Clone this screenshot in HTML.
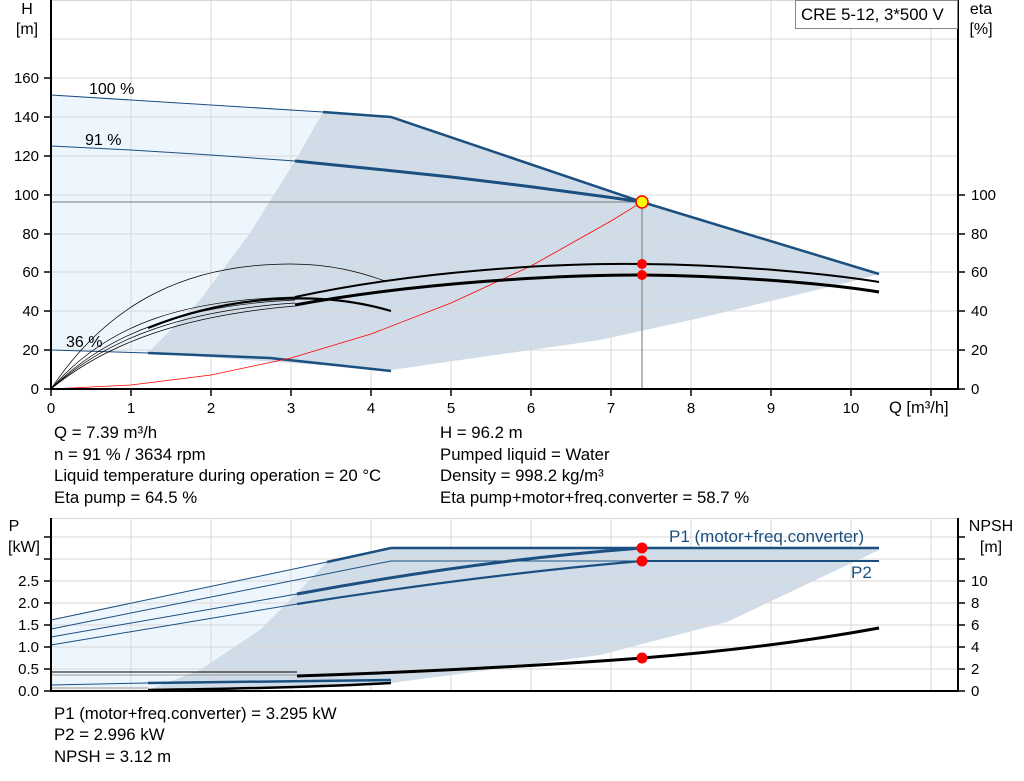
<!DOCTYPE html>
<html><head><meta charset="utf-8"><style>
html,body{margin:0;padding:0;background:#fff;}
svg{display:block;font-family:"Liberation Sans",Arial,sans-serif;}
</style></head><body>
<svg width="1024" height="781" viewBox="0 0 1024 781" xmlns="http://www.w3.org/2000/svg">
<!-- TOP CHART -->
<polygon points="51,95 323,112 295,161 250,233 200,300 148,353 51,350" fill="#eef6fd"/>
<polygon points="323,112 391,117 642,202 879,274 850,282 700,318 600,340 391,370 148,353 200,300 250,233 295,161" fill="#d0dce8"/>
<g stroke="#d8d8d8" stroke-width="1">
<line x1="131" y1="0" x2="131" y2="389"/><line x1="211" y1="0" x2="211" y2="389"/><line x1="291" y1="0" x2="291" y2="389"/><line x1="371" y1="0" x2="371" y2="389"/><line x1="451" y1="0" x2="451" y2="389"/><line x1="531" y1="0" x2="531" y2="389"/><line x1="611" y1="0" x2="611" y2="389"/><line x1="691" y1="0" x2="691" y2="389"/><line x1="771" y1="0" x2="771" y2="389"/><line x1="851" y1="0" x2="851" y2="389"/><line x1="931" y1="0" x2="931" y2="389"/>
<line x1="51" y1="39" x2="958" y2="39"/><line x1="51" y1="78" x2="958" y2="78"/><line x1="51" y1="117" x2="958" y2="117"/><line x1="51" y1="156" x2="958" y2="156"/><line x1="51" y1="195" x2="958" y2="195"/><line x1="51" y1="234" x2="958" y2="234"/><line x1="51" y1="272" x2="958" y2="272"/><line x1="51" y1="311" x2="958" y2="311"/><line x1="51" y1="350" x2="958" y2="350"/>
<line x1="51" y1="0.5" x2="958" y2="0.5"/>
</g>
<line x1="51" y1="202" x2="642" y2="202" stroke="#777" stroke-width="1"/>
<line x1="642" y1="202" x2="642" y2="389" stroke="#888" stroke-width="1.2"/>
<polyline points="51,95 323,112" fill="none" stroke="#1a4f80" stroke-width="1"/>
<polyline points="323,112 391,117 642,202 879,274" fill="none" stroke="#1a4f80" stroke-width="2.5"/>
<polyline points="51,146 131,150 211,155 295,161" fill="none" stroke="#1a4f80" stroke-width="1"/>
<polyline points="295,161 371,168.6 451,177 531,186.7 611,197.5 642,202" fill="none" stroke="#1a4f80" stroke-width="3"/>
<polyline points="51,350 148,353" fill="none" stroke="#1a4f80" stroke-width="1"/>
<polyline points="148,353 270,358 391,371" fill="none" stroke="#1a4f80" stroke-width="2.5"/>
<polyline points="51,389 131,385 211,375 291,358 371,334 451,303 531,266 611,221 642,202" fill="none" stroke="#f00" stroke-width="0.8"/>
<g fill="none" stroke="#000">
<path d="M51,389 C110,300 190,264 291,264 C330,264 360,272 385,281" stroke-width="0.7"/>
<path d="M51,389 C110,320 190,300 295,297" stroke-width="0.7"/>
<path d="M51,389 C110,330 190,305 295,300" stroke-width="0.7"/>
<path d="M51,389 C110,335 190,310 295,303" stroke-width="0.7"/>
<path d="M51,389 C110,340 190,315 295,306" stroke-width="0.7"/>
<path d="M148,328 C230,295 320,290 391,311" stroke-width="2.2"/>
<path d="M295,297 C420,270 560,263 642,264 C740,265 830,274 879,282" stroke-width="2"/>
<path d="M295,305 C420,282 560,275 642,275 C740,276 830,284 879,292" stroke-width="3"/>
</g>
<circle cx="642" cy="264" r="5" fill="#f00"/>
<circle cx="642" cy="275" r="5" fill="#f00"/>
<circle cx="642" cy="202" r="6" fill="#ff0" stroke="#f00" stroke-width="1.5"/>
<g stroke="#000" stroke-width="2">
<line x1="51" y1="0" x2="51" y2="390"/><line x1="50" y1="389" x2="959" y2="389"/><line x1="958" y1="0" x2="958" y2="390"/>
</g>
<g stroke="#000" stroke-width="1.5">
<line x1="51" y1="389" x2="51" y2="396"/><line x1="131" y1="389" x2="131" y2="396"/><line x1="211" y1="389" x2="211" y2="396"/><line x1="291" y1="389" x2="291" y2="396"/><line x1="371" y1="389" x2="371" y2="396"/><line x1="451" y1="389" x2="451" y2="396"/><line x1="531" y1="389" x2="531" y2="396"/><line x1="611" y1="389" x2="611" y2="396"/><line x1="691" y1="389" x2="691" y2="396"/><line x1="771" y1="389" x2="771" y2="396"/><line x1="851" y1="389" x2="851" y2="396"/><line x1="931" y1="389" x2="931" y2="396"/>
<line x1="44" y1="389" x2="51" y2="389"/><line x1="44" y1="350" x2="51" y2="350"/><line x1="44" y1="311" x2="51" y2="311"/><line x1="44" y1="272" x2="51" y2="272"/><line x1="44" y1="234" x2="51" y2="234"/><line x1="44" y1="195" x2="51" y2="195"/><line x1="44" y1="156" x2="51" y2="156"/><line x1="44" y1="117" x2="51" y2="117"/><line x1="44" y1="78" x2="51" y2="78"/>
<line x1="958" y1="389" x2="965" y2="389"/><line x1="958" y1="350" x2="965" y2="350"/><line x1="958" y1="311" x2="965" y2="311"/><line x1="958" y1="272" x2="965" y2="272"/><line x1="958" y1="234" x2="965" y2="234"/><line x1="958" y1="195" x2="965" y2="195"/>
</g>
<g font-size="15" fill="#000">
<text x="27" y="14" text-anchor="middle" font-size="16">H</text><text x="27" y="34" text-anchor="middle" font-size="16">[m]</text>
<g text-anchor="end"><text x="39" y="394">0</text><text x="39" y="355">20</text><text x="39" y="316">40</text><text x="39" y="277">60</text><text x="39" y="239">80</text><text x="39" y="200">100</text><text x="39" y="161">120</text><text x="39" y="122">140</text><text x="39" y="83">160</text></g>
<g><text x="971" y="394">0</text><text x="971" y="355">20</text><text x="971" y="316">40</text><text x="971" y="277">60</text><text x="971" y="239">80</text><text x="971" y="200">100</text></g>
<text x="981" y="14" text-anchor="middle" font-size="16">eta</text><text x="981" y="34" text-anchor="middle" font-size="16">[%]</text>
<g text-anchor="middle"><text x="51" y="413">0</text><text x="131" y="413">1</text><text x="211" y="413">2</text><text x="291" y="413">3</text><text x="371" y="413">4</text><text x="451" y="413">5</text><text x="531" y="413">6</text><text x="611" y="413">7</text><text x="691" y="413">8</text><text x="771" y="413">9</text><text x="851" y="413">10</text></g>
<text x="889" y="413" font-size="16.5">Q [m³/h]</text>
<g font-size="16"><text x="89" y="94">100 %</text><text x="85" y="145">91 %</text><text x="66" y="347">36 %</text></g>
</g>
<rect x="795.5" y="0.5" width="162" height="28" fill="#fff" stroke="#888"/>
<text x="801" y="20" font-size="16.8">CRE 5-12, 3*500 V</text>
<g font-size="16.8" fill="#000">
<text x="54" y="438">Q = 7.39 m³/h</text>
<text x="54" y="460">n = 91 % / 3634 rpm</text>
<text x="54" y="481">Liquid temperature during operation = 20 °C</text>
<text x="54" y="503">Eta pump = 64.5 %</text>
<text x="440" y="438">H = 96.2 m</text>
<text x="440" y="460">Pumped liquid = Water</text>
<text x="440" y="481">Density = 998.2 kg/m³</text>
<text x="440" y="503">Eta pump+motor+freq.converter = 58.7 %</text>
</g>
<!-- BOTTOM CHART -->
<polygon points="51,620 327,562 300,590 260,630 200,670 148,690 51,691" fill="#eef6fd"/>
<polygon points="327,562 391,548 879,548 879,550 727,622 600,655 391,683 148,690 200,670 260,630 300,590" fill="#d0dce8"/>
<g stroke="#d8d8d8" stroke-width="1">
<line x1="131" y1="518" x2="131" y2="691"/><line x1="211" y1="518" x2="211" y2="691"/><line x1="291" y1="518" x2="291" y2="691"/><line x1="371" y1="518" x2="371" y2="691"/><line x1="451" y1="518" x2="451" y2="691"/><line x1="531" y1="518" x2="531" y2="691"/><line x1="611" y1="518" x2="611" y2="691"/><line x1="691" y1="518" x2="691" y2="691"/><line x1="771" y1="518" x2="771" y2="691"/><line x1="851" y1="518" x2="851" y2="691"/><line x1="931" y1="518" x2="931" y2="691"/>
<line x1="51" y1="518.5" x2="958" y2="518.5"/><line x1="51" y1="537" x2="958" y2="537"/><line x1="51" y1="559" x2="958" y2="559"/><line x1="51" y1="581" x2="958" y2="581"/><line x1="51" y1="603" x2="958" y2="603"/><line x1="51" y1="625" x2="958" y2="625"/><line x1="51" y1="647" x2="958" y2="647"/><line x1="51" y1="669" x2="958" y2="669"/>
</g>
<g fill="none" stroke="#1a4f80">
<line x1="51" y1="620" x2="327" y2="562" stroke-width="1"/>
<polyline points="327,562 391,548 879,548" stroke-width="2.5"/>
<polyline points="51,629 391,561 879,561" stroke-width="1"/>
<line x1="642" y1="561" x2="879" y2="561" stroke-width="2"/>
<line x1="51" y1="637" x2="297" y2="594" stroke-width="1"/>
<path d="M297,594 Q480,560 642,548" stroke-width="3"/>
<line x1="51" y1="645" x2="297" y2="604" stroke-width="1"/>
<path d="M297,604 Q480,575 642,561" stroke-width="2.2"/>
<line x1="51" y1="685" x2="148" y2="683" stroke-width="1"/>
<line x1="148" y1="683" x2="391" y2="680" stroke-width="2.5"/>
</g>
<line x1="51" y1="672" x2="297" y2="672" stroke="#000" stroke-width="1"/>
<line x1="51" y1="675" x2="297" y2="675" stroke="#999" stroke-width="1"/>
<line x1="51" y1="688" x2="148" y2="688" stroke="#999" stroke-width="1"/>
<path d="M148,690 Q300,688 391,683" fill="none" stroke="#000" stroke-width="2.5"/>
<path d="M297,676 Q480,670 642,658 Q770,648 879,628" fill="none" stroke="#000" stroke-width="3"/>
<circle cx="642" cy="548" r="5.5" fill="#f00"/>
<circle cx="642" cy="561" r="5.5" fill="#f00"/>
<circle cx="642" cy="658" r="5.5" fill="#f00"/>
<g stroke="#000" stroke-width="2">
<line x1="51" y1="518" x2="51" y2="692"/><line x1="50" y1="691" x2="959" y2="691"/><line x1="958" y1="518" x2="958" y2="692"/>
</g>
<g stroke="#000" stroke-width="1.5">
<line x1="44" y1="691" x2="51" y2="691"/><line x1="44" y1="669" x2="51" y2="669"/><line x1="44" y1="647" x2="51" y2="647"/><line x1="44" y1="625" x2="51" y2="625"/><line x1="44" y1="603" x2="51" y2="603"/><line x1="44" y1="581" x2="51" y2="581"/><line x1="44" y1="559" x2="51" y2="559"/><line x1="44" y1="537" x2="51" y2="537"/>
<line x1="958" y1="691" x2="965" y2="691"/><line x1="958" y1="669" x2="965" y2="669"/><line x1="958" y1="647" x2="965" y2="647"/><line x1="958" y1="625" x2="965" y2="625"/><line x1="958" y1="603" x2="965" y2="603"/><line x1="958" y1="581" x2="965" y2="581"/><line x1="958" y1="559" x2="965" y2="559"/><line x1="958" y1="537" x2="965" y2="537"/>
</g>
<g font-size="15" fill="#000">
<text x="14" y="531" text-anchor="middle" font-size="16">P</text><text x="24" y="552" text-anchor="middle" font-size="16">[kW]</text>
<g text-anchor="end"><text x="39" y="696">0.0</text><text x="39" y="674">0.5</text><text x="39" y="652">1.0</text><text x="39" y="630">1.5</text><text x="39" y="608">2.0</text><text x="39" y="586">2.5</text></g>
<g><text x="971" y="696">0</text><text x="971" y="674">2</text><text x="971" y="652">4</text><text x="971" y="630">6</text><text x="971" y="608">8</text><text x="971" y="586">10</text></g>
<text x="991" y="531" text-anchor="middle" font-size="16">NPSH</text><text x="991" y="552" text-anchor="middle" font-size="16">[m]</text>
</g>
<g font-size="17" fill="#1a4f80">
<text x="669" y="542">P1 (motor+freq.converter)</text>
<text x="851" y="578">P2</text>
</g>
<g font-size="16.8" fill="#000">
<text x="54" y="719">P1 (motor+freq.converter) = 3.295 kW</text>
<text x="54" y="740">P2 = 2.996 kW</text>
<text x="54" y="762">NPSH = 3.12 m</text>
</g>
</svg>
</body></html>
